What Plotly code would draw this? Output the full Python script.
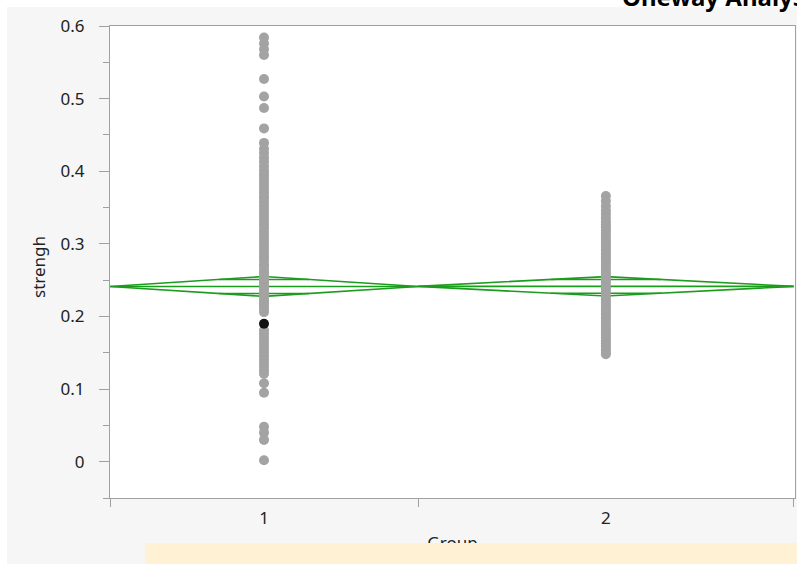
import math
import plotly.graph_objects as go

# ---------------- data ----------------
groups = ["1", "2"]

group1_strengh = [
    0.584, 0.576, 0.568, 0.560, 0.527, 0.503, 0.487, 0.459, 0.439, 0.431,
    0.425, 0.419, 0.413, 0.407, 0.401, 0.396, 0.391, 0.386, 0.381, 0.376,
    0.371, 0.366, 0.362, 0.357, 0.352, 0.347, 0.342, 0.337, 0.332, 0.327,
    0.322, 0.317, 0.312, 0.307, 0.302, 0.297, 0.292, 0.287, 0.282, 0.277,
    0.272, 0.268, 0.263, 0.259, 0.255, 0.251, 0.247, 0.243, 0.239, 0.235,
    0.231, 0.227, 0.223, 0.219, 0.215, 0.211, 0.206, 0.181, 0.176, 0.171,
    0.166, 0.161, 0.156, 0.151, 0.146, 0.141, 0.136, 0.131, 0.126, 0.121,
    0.108, 0.095, 0.048, 0.040, 0.030, 0.002,
]
group1_highlight = [0.190]

group2_strengh = [
    0.366, 0.359, 0.352, 0.346, 0.341, 0.336, 0.331, 0.327, 0.323, 0.319,
    0.315, 0.311, 0.307, 0.303, 0.299, 0.295, 0.291, 0.287, 0.283, 0.279,
    0.275, 0.271, 0.267, 0.263, 0.259, 0.255, 0.251, 0.247, 0.243, 0.239,
    0.235, 0.231, 0.227, 0.223, 0.219, 0.215, 0.211, 0.207, 0.203, 0.199,
    0.195, 0.191, 0.187, 0.183, 0.179, 0.175, 0.171, 0.167, 0.163, 0.159,
    0.155, 0.151, 0.148,
]

group_means = [0.2413, 0.2415]
group_ci_half = [0.0137, 0.0134]

y_tick_values = [0, 0.1, 0.2, 0.3, 0.4, 0.5, 0.6]
y_tick_labels = ["0", "0.1", "0.2", "0.3", "0.4", "0.5", "0.6"]

y_title = "strengh"
x_title = "Group"
header_text = "Oneway Analysis"

# ---------------- layout constants ----------------
W, H = 797, 564
GROUP_WIDTHS = [1.0, 1.22]
X_RANGE = [0, 2.224]
Y_RANGE = [-0.05, 0.6]
PLOT_L, PLOT_R, PLOT_T, PLOT_B = 110, 795, 26, 498

GRAY_PT = "#a3a3a3"
GREEN = "#1c9c1c"
AXIS_COL = "#a0a0a0"
PANEL = "#f6f6f6"
FONT = "Noto Sans"
TXT = "#222222"


def px(xp):
    return xp / W


def py(yp):
    return (H - yp) / H


edges = [0.0]
for w in GROUP_WIDTHS:
    edges.append(edges[-1] + w)
centers = [(edges[i] + edges[i + 1]) / 2 for i in range(len(groups))]

fig = go.Figure()

# means diamonds
for i in range(len(groups)):
    left, right, c = edges[i], edges[i + 1], centers[i]
    m, h = group_means[i], group_ci_half[i]
    fig.add_trace(go.Scatter(
        x=[left, c, right, c, left], y=[m, m + h, m, m - h, m],
        mode="lines", line=dict(color=GREEN, width=1.6),
        hoverinfo="skip", showlegend=False))
    fig.add_trace(go.Scatter(
        x=[left, right], y=[m, m], mode="lines",
        line=dict(color=GREEN, width=1.6), hoverinfo="skip", showlegend=False))
    half = (right - left) / 2 * (1 - 1 / math.sqrt(2))
    for s in (1, -1):
        yy = m + s * h / math.sqrt(2)
        fig.add_trace(go.Scatter(
            x=[c - half, c + half], y=[yy, yy], mode="lines",
            line=dict(color=GREEN, width=1.6), hoverinfo="skip", showlegend=False))

# points
all_vals = [group1_strengh, group2_strengh]
for i in range(len(groups)):
    fig.add_trace(go.Scatter(
        x=[centers[i]] * len(all_vals[i]), y=all_vals[i], mode="markers",
        marker=dict(color=GRAY_PT, size=10, line=dict(width=0)),
        name=groups[i], showlegend=False))
fig.add_trace(go.Scatter(
    x=[centers[0]] * len(group1_highlight), y=group1_highlight, mode="markers",
    marker=dict(color="#111111", size=10, line=dict(width=0)), showlegend=False))

# invisible trace for the boundary-tick overlay axis
fig.add_trace(go.Scatter(x=[edges[0]], y=[Y_RANGE[0]], xaxis="x2", mode="markers",
                         marker=dict(opacity=0), hoverinfo="skip", showlegend=False))

# clipped x-axis title (partially hidden by the yellow strip)
fig.add_trace(go.Scatter(x=[px((PLOT_L + PLOT_R) / 2)], y=[-0.1], xaxis="x3", yaxis="y3",
                         mode="text", text=[x_title], cliponaxis=True,
                         textfont=dict(family=FONT, size=17, color=TXT),
                         hoverinfo="skip", showlegend=False))

fig.update_layout(
    width=W, height=H, autosize=False,
    margin=dict(l=0, r=0, t=0, b=0, autoexpand=False),
    paper_bgcolor=PANEL, plot_bgcolor=PANEL,
    font=dict(family=FONT, size=17, color=TXT),
    xaxis=dict(
        domain=[px(PLOT_L), px(PLOT_R)], range=X_RANGE, anchor="y",
        tickvals=centers, ticktext=groups, ticks="", ticklabelstandoff=5,
        showline=True, linecolor=AXIS_COL, linewidth=1, mirror=True,
        showgrid=False, zeroline=False, automargin=False,
        tickfont=dict(family=FONT, size=17, color=TXT)),
    xaxis2=dict(
        overlaying="x", anchor="y", range=X_RANGE, tickvals=edges,
        showticklabels=False, ticks="outside", ticklen=8, tickcolor=AXIS_COL,
        showline=False, showgrid=False, zeroline=False, automargin=False),
    yaxis=dict(
        domain=[py(PLOT_B), py(PLOT_T)], range=Y_RANGE, anchor="x",
        tickvals=y_tick_values, ticktext=y_tick_labels,
        ticks="outside", ticklen=10, tickcolor=AXIS_COL, ticklabelstandoff=11,
        minor=dict(dtick=0.05, tick0=0, ticks="outside", ticklen=6, tickcolor=AXIS_COL),
        showline=True, linecolor=AXIS_COL, linewidth=1, mirror=True,
        showgrid=False, zeroline=False, automargin=False,
        tickfont=dict(family=FONT, size=17, color=TXT)),
    xaxis3=dict(domain=[0, 1], range=[0, 1], anchor="y3", visible=False),
    yaxis3=dict(domain=[py(543), py(530)], range=[0, 1], anchor="x3", visible=False),
    shapes=[
        # white plot area of the main subplot
        dict(type="rect", xref="x domain", yref="y domain", x0=0, x1=1, y0=0, y1=1,
             fillcolor="white", line=dict(width=0), layer="below"),
        dict(type="rect", xref="paper", yref="paper", x0=0, x1=1, y0=py(7), y1=1,
             fillcolor="white", line=dict(width=0), layer="below"),
        dict(type="rect", xref="paper", yref="paper", x0=0, x1=px(7), y0=0, y1=1,
             fillcolor="white", line=dict(width=0), layer="below"),
        dict(type="rect", xref="paper", yref="paper", x0=px(145), x1=1, y0=0, y1=py(543),
             fillcolor="#fff1d4", line=dict(width=0), layer="above"),
    ],
    annotations=[
        dict(text=y_title, textangle=-90, xref="paper", yref="paper",
             x=px(38), y=py(267), xanchor="center", yanchor="middle", showarrow=False,
             font=dict(family=FONT, size=17, color=TXT)),
        dict(text="<b>" + header_text + "</b>", xref="paper", yref="paper",
             x=px(620), y=1.0, xanchor="left", yanchor="middle", yshift=4,
             showarrow=False, font=dict(family=FONT, size=24, color="#000000")),
    ],
)

fig.write_html("out.html", config={"displayModeBar": False},
               post_script="document.body.style.margin='0px';")
